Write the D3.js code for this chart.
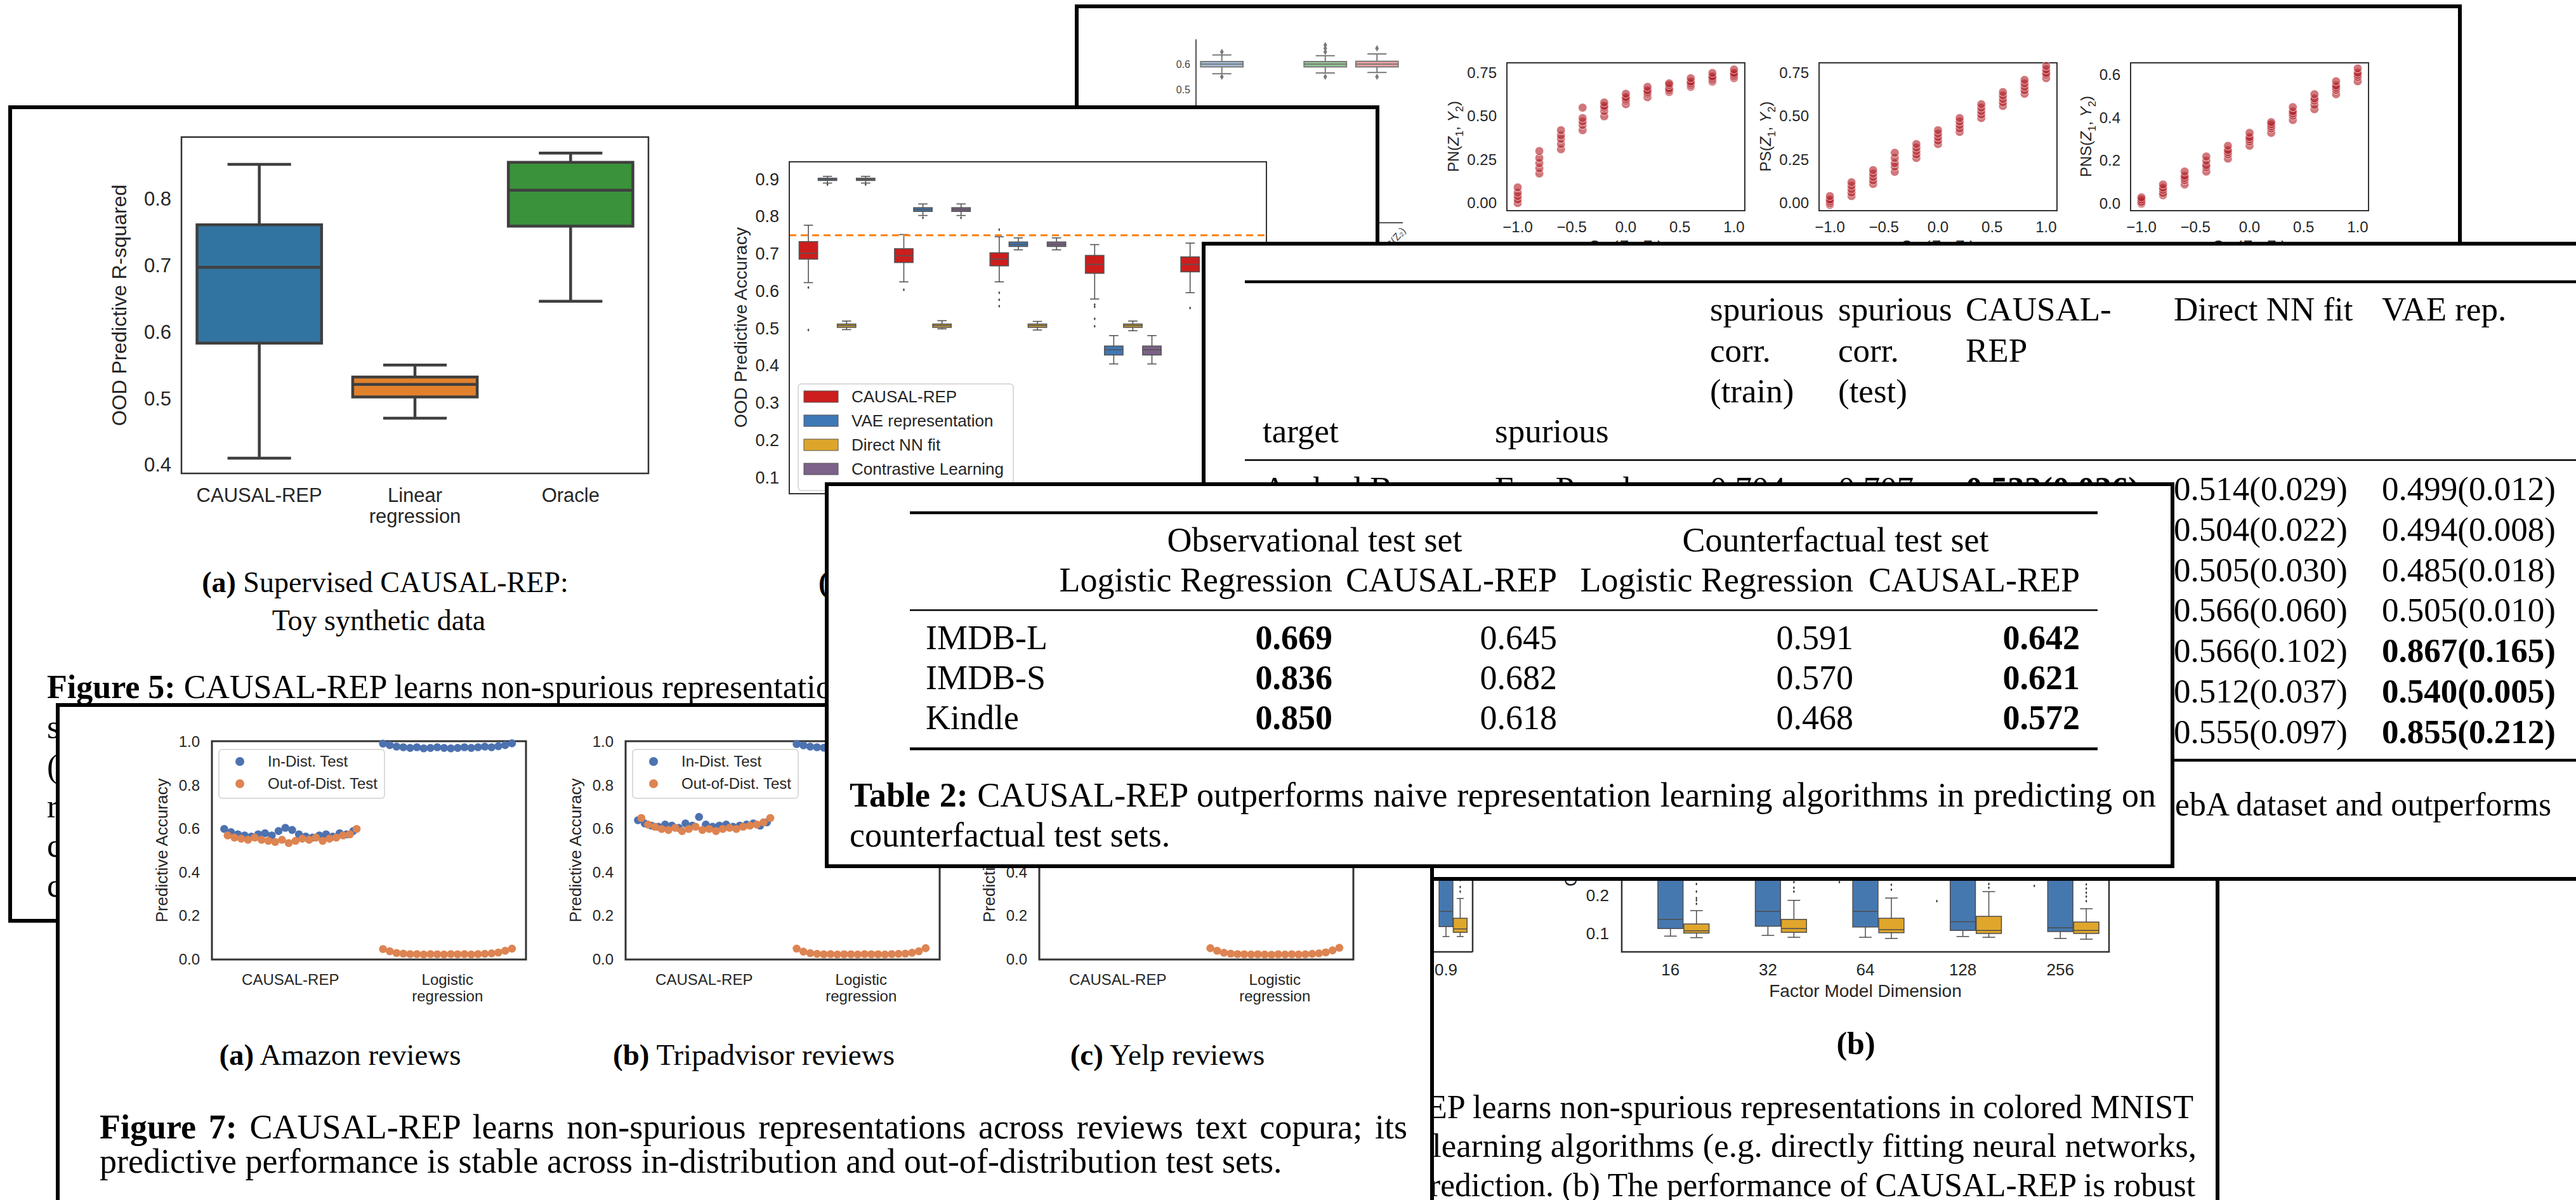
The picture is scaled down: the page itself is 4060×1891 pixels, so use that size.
<!DOCTYPE html>
<html>
<head>
<meta charset="utf-8">
<script src="https://cdn.jsdelivr.net/npm/d3@7"></script>
<style>
  html, body { margin: 0; padding: 0; background: #fff; }
  svg { display: block; }
</style>
</head>
<body>
<script>
// ================= data =================

// Fig 5(a): toy synthetic data, OOD predictive R-squared
const r2Categories = ["CAUSAL-REP", "Linear regression", "Oracle"];
const r2Stats = [
  { lo: 0.410, q1: 0.583, med: 0.697, q3: 0.761, hi: 0.852 },
  { lo: 0.470, q1: 0.502, med: 0.521, q3: 0.532, hi: 0.550 },
  { lo: 0.646, q1: 0.759, med: 0.813, q3: 0.855, hi: 0.869 }
];
const r2Ticks = [0.4, 0.5, 0.6, 0.7, 0.8];

// Fig 5(b): colored MNIST, OOD predictive accuracy
const mnistGroups = ["0.1", "0.3", "0.5", "0.7", "0.9"];
const mnistMethods = ["CAUSAL-REP", "VAE representation", "Direct NN fit", "Contrastive Learning"];
const mnistCausal = [
  { lo: 0.623, q1: 0.686, med: 0.702, q3: 0.733, hi: 0.777, out: [0.610, 0.496] },
  { lo: 0.625, q1: 0.677, med: 0.695, q3: 0.714, hi: 0.752, out: [0.604] },
  { lo: 0.625, q1: 0.668, med: 0.686, q3: 0.703, hi: 0.746, out: [0.765, 0.596, 0.577, 0.560] },
  { lo: 0.579, q1: 0.648, med: 0.672, q3: 0.696, hi: 0.725, out: [0.564, 0.558, 0.526, 0.506] },
  { lo: 0.596, q1: 0.652, med: 0.672, q3: 0.692, hi: 0.729, out: [0.555] }
];
const mnistVae = [
  { lo: 0.890, q1: 0.897, med: 0.900, q3: 0.903, hi: 0.908, out: [0.886] },
  { lo: 0.803, q1: 0.814, med: 0.819, q3: 0.824, hi: 0.834, out: [0.797] },
  { lo: 0.711, q1: 0.720, med: 0.726, q3: 0.732, hi: 0.743, out: [] },
  { lo: 0.405, q1: 0.429, med: 0.443, q3: 0.453, hi: 0.481, out: [] },
  null
];
const mnistDirect = [
  { lo: 0.497, q1: 0.503, med: 0.508, q3: 0.512, hi: 0.520, out: [] },
  { lo: 0.499, q1: 0.503, med: 0.508, q3: 0.512, hi: 0.521, out: [] },
  { lo: 0.496, q1: 0.503, med: 0.508, q3: 0.512, hi: 0.519, out: [] },
  { lo: 0.494, q1: 0.503, med: 0.508, q3: 0.512, hi: 0.520, out: [] },
  null
];
const mnistContrastive = [
  { lo: 0.890, q1: 0.897, med: 0.900, q3: 0.903, hi: 0.908, out: [0.886] },
  { lo: 0.803, q1: 0.814, med: 0.819, q3: 0.824, hi: 0.834, out: [0.797] },
  { lo: 0.711, q1: 0.720, med: 0.726, q3: 0.732, hi: 0.743, out: [] },
  { lo: 0.405, q1: 0.429, med: 0.443, q3: 0.453, hi: 0.481, out: [] },
  null
];
const mnistTicks = [0.1, 0.2, 0.3, 0.4, 0.5, 0.6, 0.7, 0.8, 0.9];
const mnistBaseline = 0.75;

// probabilities of causation vs correlation
const corrLevels = [-1.0, -0.8, -0.6, -0.4, -0.2, 0.0, 0.2, 0.4, 0.6, 0.8, 1.0];
const pnValues = [
  [0.00, 0.02, 0.04, 0.06, 0.09], [0.17, 0.20, 0.23, 0.26, 0.30], [0.31, 0.34, 0.37, 0.39, 0.42],
  [0.42, 0.45, 0.47, 0.49, 0.55], [0.50, 0.53, 0.55, 0.56, 0.58], [0.57, 0.59, 0.60, 0.61, 0.63],
  [0.61, 0.63, 0.64, 0.65, 0.67], [0.64, 0.65, 0.66, 0.68, 0.69], [0.67, 0.68, 0.69, 0.70, 0.72],
  [0.70, 0.71, 0.72, 0.73, 0.75], [0.72, 0.73, 0.74, 0.75, 0.77]
];
const psValues = [
  [-0.01, 0.00, 0.01, 0.02, 0.04], [0.04, 0.06, 0.08, 0.10, 0.12], [0.11, 0.13, 0.15, 0.17, 0.19],
  [0.18, 0.21, 0.23, 0.26, 0.29], [0.26, 0.28, 0.30, 0.32, 0.34], [0.34, 0.36, 0.38, 0.40, 0.42],
  [0.41, 0.43, 0.45, 0.47, 0.49], [0.49, 0.51, 0.53, 0.55, 0.57], [0.56, 0.58, 0.60, 0.62, 0.64],
  [0.63, 0.65, 0.67, 0.69, 0.71], [0.72, 0.74, 0.75, 0.77, 0.79]
];
const pnsValues = [
  [0.000, 0.005, 0.010, 0.020, 0.030], [0.040, 0.050, 0.065, 0.075, 0.090], [0.09, 0.11, 0.12, 0.13, 0.15],
  [0.15, 0.17, 0.18, 0.20, 0.22], [0.21, 0.23, 0.24, 0.25, 0.27], [0.27, 0.29, 0.30, 0.31, 0.33],
  [0.33, 0.35, 0.36, 0.37, 0.38], [0.39, 0.41, 0.42, 0.43, 0.45], [0.44, 0.46, 0.48, 0.49, 0.51],
  [0.51, 0.53, 0.54, 0.55, 0.57], [0.57, 0.59, 0.60, 0.61, 0.63]
];
const pnTicks = [0, 0.25, 0.5, 0.75];
const pnsTicks = [0, 0.2, 0.4, 0.6];
const corrTicks = [-1, -0.5, 0, 0.5, 1];

// small box chart of estimated probabilities
const probSlots = ["PN(Z₁)", "PS(Z₁)", "PNS(Z₁)", "PNS(Z₂)"];
const probStats = [
  { lo: 0.562, q1: 0.589, med: 0.600, q3: 0.610, hi: 0.636, out: [0.648, 0.550] },
  null,
  { lo: 0.565, q1: 0.589, med: 0.600, q3: 0.610, hi: 0.633, out: [0.675, 0.662, 0.648, 0.550] },
  { lo: 0.567, q1: 0.589, med: 0.600, q3: 0.611, hi: 0.640, out: [0.662, 0.550] }
];
const probTicks = [0.5, 0.6];

// CelebA table
const celebHeader = [["target"], ["spurious"], ["spurious", "corr.", "(train)"], ["spurious", "corr.", "(test)"],
                     ["CAUSAL-", "REP"], ["Direct NN fit"], ["VAE rep."]];
const celebFirstRow = ["Arched Brows", "Eye Pouch", "0.704", "0.707", "0.532(0.026)"];
const celebDirect = ["0.514(0.029)", "0.504(0.022)", "0.505(0.030)", "0.566(0.060)", "0.566(0.102)", "0.512(0.037)", "0.555(0.097)"];
const celebVae = ["0.499(0.012)", "0.494(0.008)", "0.485(0.018)", "0.505(0.010)", "0.867(0.165)", "0.540(0.005)", "0.855(0.212)"];
const celebVaeBold = [false, false, false, false, true, true, true];

// Table 2
const t2Datasets = ["IMDB-L", "IMDB-S", "Kindle"];
const t2ObsLogistic = ["0.669", "0.836", "0.850"];
const t2ObsCausal = ["0.645", "0.682", "0.618"];
const t2CfLogistic = ["0.591", "0.570", "0.468"];
const t2CfCausal = ["0.642", "0.621", "0.572"];

// Fig 7: review corpora
const reviewSets = ["Amazon reviews", "Tripadvisor reviews", "Yelp reviews"];
const reviewTags = ["(a)", "(b)", "(c)"];
const reviewMethods = ["CAUSAL-REP", "Logistic regression"];
const reviewTicks = [0.0, 0.2, 0.4, 0.6, 0.8, 1.0];
const causalInDist = [
  [0.600, 0.585, 0.575, 0.570, 0.565, 0.575, 0.580, 0.570, 0.590, 0.605, 0.595, 0.575, 0.565, 0.560, 0.570, 0.575, 0.565, 0.580, 0.575, 0.590],
  [0.640, 0.625, 0.615, 0.610, 0.620, 0.615, 0.605, 0.625, 0.615, 0.655, 0.620, 0.610, 0.615, 0.620, 0.610, 0.615, 0.620, 0.625, 0.615, 0.630],
  []
];
const causalOutDist = [
  [0.570, 0.560, 0.555, 0.550, 0.560, 0.550, 0.545, 0.540, 0.550, 0.535, 0.545, 0.555, 0.550, 0.560, 0.545, 0.555, 0.560, 0.570, 0.575, 0.600],
  [0.650, 0.620, 0.610, 0.600, 0.595, 0.605, 0.590, 0.600, 0.610, 0.595, 0.600, 0.590, 0.600, 0.605, 0.600, 0.610, 0.615, 0.620, 0.630, 0.650],
  []
];
const logisticInDist = [
  [0.992, 0.985, 0.978, 0.975, 0.972, 0.975, 0.970, 0.972, 0.975, 0.972, 0.970, 0.972, 0.975, 0.972, 0.975, 0.978, 0.975, 0.980, 0.985, 0.993],
  [0.990, 0.984, 0.978, 0.975, 0.973, 0.975, 0.971, 0.973, 0.975, 0.972, 0.971, 0.973, 0.975, 0.973, 0.975, 0.977, 0.976, 0.980, 0.984, 0.992],
  []
];
const logisticOutDist = [
  [0.048, 0.038, 0.030, 0.027, 0.025, 0.025, 0.023, 0.025, 0.024, 0.023, 0.025, 0.024, 0.025, 0.023, 0.025, 0.026, 0.028, 0.032, 0.040, 0.050],
  [0.050, 0.036, 0.029, 0.026, 0.024, 0.025, 0.023, 0.024, 0.024, 0.023, 0.025, 0.024, 0.024, 0.023, 0.025, 0.026, 0.027, 0.031, 0.038, 0.052],
  [0.052, 0.040, 0.031, 0.027, 0.025, 0.024, 0.023, 0.024, 0.023, 0.022, 0.024, 0.023, 0.024, 0.023, 0.024, 0.026, 0.028, 0.033, 0.042, 0.054]
];

// factor model dimension study
const dimGroups = ["16", "32", "64", "128", "256"];
const dimMethods = ["CAUSAL-REP", "VAE representation", "Direct NN fit"];
const dimCausal = [
  { lo: 0.26, q1: 0.45, med: 0.55, q3: 0.62, hi: 0.70, out: [] },
  { lo: 0.26, q1: 0.45, med: 0.55, q3: 0.62, hi: 0.70, out: [] },
  { lo: 0.26, q1: 0.45, med: 0.55, q3: 0.62, hi: 0.70, out: [0.235] },
  { lo: 0.26, q1: 0.45, med: 0.55, q3: 0.62, hi: 0.70, out: [0.185] },
  { lo: 0.26, q1: 0.45, med: 0.55, q3: 0.62, hi: 0.70, out: [0.225] }
];
const dimVae = [
  { lo: 0.093, q1: 0.113, med: 0.137, q3: 0.30, hi: 0.45, out: [] },
  { lo: 0.095, q1: 0.119, med: 0.158, q3: 0.30, hi: 0.45, out: [] },
  { lo: 0.090, q1: 0.117, med: 0.158, q3: 0.30, hi: 0.45, out: [] },
  { lo: 0.092, q1: 0.108, med: 0.131, q3: 0.30, hi: 0.45, out: [] },
  { lo: 0.087, q1: 0.105, med: 0.115, q3: 0.30, hi: 0.45, out: [] }
];
const dimDirect = [
  { lo: 0.089, q1: 0.101, med: 0.107, q3: 0.125, hi: 0.160, out: [0.178, 0.187, 0.193, 0.210, 0.230] },
  { lo: 0.090, q1: 0.103, med: 0.113, q3: 0.137, hi: 0.187, out: [0.210, 0.220, 0.235] },
  { lo: 0.087, q1: 0.102, med: 0.110, q3: 0.140, hi: 0.193, out: [0.215, 0.228] },
  { lo: 0.090, q1: 0.100, med: 0.108, q3: 0.145, hi: 0.210, out: [0.220, 0.230] },
  { lo: 0.085, q1: 0.100, med: 0.108, q3: 0.130, hi: 0.165, out: [0.185, 0.197, 0.207, 0.218, 0.229] }
];
const dimTicks = [0.1, 0.2];
const corrGroupsTail = ["0.9"];
const corrTailVae = [{ lo: 0.092, q1: 0.118, med: 0.158, q3: 0.30, hi: 0.45, out: [] }];
const corrTailDirect = [{ lo: 0.092, q1: 0.103, med: 0.112, q3: 0.140, hi: 0.192, out: [0.210, 0.222, 0.240] }];

// ================= drawing =================
const SANS = "'Liberation Sans', Arial, Helvetica, sans-serif";
const SERIF = "'Liberation Serif', 'Times New Roman', serif";
const INK = "#262626";

const svg = d3.select("body").append("svg").attr("width", 4060).attr("height", 1891);
svg.append("rect").attr("width", 4060).attr("height", 1891).attr("fill", "#fff");
const defs = svg.append("defs");

// a framed white sheet; content is clipped to the frame
function sheet(id, x0, y0, x1, y1) {
  const outer = svg.append("g");
  defs.append("clipPath").attr("id", id).append("rect")
    .attr("x", x0).attr("y", y0).attr("width", x1 - x0).attr("height", y1 - y0);
  outer.append("rect").attr("x", x0).attr("y", y0).attr("width", x1 - x0).attr("height", y1 - y0).attr("fill", "#fff");
  const g = outer.append("g").attr("clip-path", `url(#${id})`);
  outer.append("rect").attr("x", x0).attr("y", y0).attr("width", x1 - x0).attr("height", y1 - y0)
    .attr("fill", "none").attr("stroke", "#000").attr("stroke-width", 6);
  return g;
}

// text with optional rich parts: [str, flags] flags: b bold, i italic, s subscript
function txt(g, x, y, s, o = {}) {
  const size = o.size || 24;
  const t = g.append("text").attr("x", x).attr("y", y)
    .attr("font-family", o.family || SANS).attr("font-size", size)
    .attr("fill", o.fill || INK).attr("text-anchor", o.anchor || "start");
  if (o.weight) t.attr("font-weight", o.weight);
  if (o.rotate) t.attr("transform", `rotate(${o.rotate},${x},${y})`);
  if (Array.isArray(s)) {
    let shift = 0;
    s.forEach(p => {
      const [str, f] = typeof p === "string" ? [p, ""] : p;
      const ts = t.append("tspan").text(str);
      if (f.includes("b")) ts.attr("font-weight", "bold");
      if (f.includes("i")) ts.attr("font-style", "italic");
      const want = f.includes("s") ? 0.28 * size : 0;
      if (want !== shift) { ts.attr("dy", want - shift); shift = want; }
      if (f.includes("s")) ts.attr("font-size", size * 0.7);
    });
  } else t.text(s);
  if (o.justify) justify(t, o.justify);
  return t;
}

// stretch a caption line to a given width through its word spacing
function justify(t, len) {
  const natural = t.node().getComputedTextLength();
  const gaps = (t.text().match(/ /g) || []).length;
  if (natural < len && gaps > 0) t.attr("word-spacing", (len - natural) / gaps);
  else if (natural > len) t.attr("textLength", len).attr("lengthAdjust", "spacingAndGlyphs");
}

// font size giving a line its wanted width
function fitSize(t, len) {
  const natural = t.node().getComputedTextLength();
  const size = +t.attr("font-size") * len / natural;
  t.attr("font-size", size);
  return size;
}

function line(g, x1, y1, x2, y2, stroke, w, dash) {
  const l = g.append("line").attr("x1", x1).attr("y1", y1).attr("x2", x2).attr("y2", y2)
    .attr("stroke", stroke).attr("stroke-width", w);
  if (dash) l.attr("stroke-dasharray", dash);
  return l;
}

function boxplot(g, cx, w, s, y, st) {
  if (!s) return;
  const cap = w * (st.cap || 0.5);
  line(g, cx, y(s.hi), cx, y(s.q3), st.line, st.lw);
  line(g, cx, y(s.q1), cx, y(s.lo), st.line, st.lw);
  line(g, cx - cap / 2, y(s.hi), cx + cap / 2, y(s.hi), st.line, st.lw);
  line(g, cx - cap / 2, y(s.lo), cx + cap / 2, y(s.lo), st.line, st.lw);
  g.append("rect").attr("x", cx - w / 2).attr("y", y(s.q3)).attr("width", w).attr("height", y(s.q1) - y(s.q3))
    .attr("fill", st.fill).attr("stroke", st.line).attr("stroke-width", st.lw);
  line(g, cx - w / 2, y(s.med), cx + w / 2, y(s.med), st.line, st.lw);
  (s.out || []).forEach(v => {
    g.append("path").attr("d", d3.symbol(d3.symbolDiamond, st.outSize || 10)())
      .attr("transform", `translate(${cx},${y(v)})`).attr("fill", st.outFill || st.line);
  });
}

// ---------------- sheet 1: probabilities of causation ----------------
{
  const g = sheet("clipProb", 1697, 10, 3877, 1300);

  // estimated probabilities (box chart, left/bottom spines only)
  const x = d3.scaleBand().domain(probSlots).range([1885, 2211]);
  const y = d3.scaleLinear().domain([0.5, 0.6]).range([141, 101]);
  const cols = ["#a3c0df", "#bdbdbd", "#92cb92", "#f4a4a2"];
  line(g, 1885, 62, 1885, 351, "#555", 2);
  line(g, 1885, 351, 2211, 351, "#555", 2);
  probTicks.forEach(t => txt(g, 1876, y(t) + 6, d3.format(".1f")(t), { size: 16, anchor: "end", fill: "#444" }));
  probSlots.forEach((d, i) => {
    const cx = x(d) + x.bandwidth() / 2;
    boxplot(g, cx, x.bandwidth() * 0.82, probStats[i], y,
      { fill: cols[i], line: "#7a7a7a", lw: 2, cap: 0.45, outSize: 30, outFill: "#7a7a7a" });
    txt(g, cx + 46, 364, d, { size: 16, anchor: "end", rotate: -50, fill: "#444" });
  });

  // PN / PS / PNS scatter charts
  const charts = [
    { x0: 2375, vals: pnValues, ticks: pnTicks, fmt: ".2f", dom: [-0.044, 0.8085], lab: "PN", lx: 2299 },
    { x0: 2867, vals: psValues, ticks: pnTicks, fmt: ".2f", dom: [-0.044, 0.8085], lab: "PS", lx: 2791 },
    { x0: 3358, vals: pnsValues, ticks: pnsTicks, fmt: ".1f", dom: [-0.032, 0.656], lab: "PNS", lx: 3296 }
  ];
  const minus = s => s.replace("-", "\u2212");
  charts.forEach(c => {
    const sx = d3.scaleLinear().domain([-1.1, 1.1]).range([c.x0, c.x0 + 375]);
    const sy = d3.scaleLinear().domain(c.dom).range([332, 99]);
    g.append("rect").attr("x", c.x0).attr("y", 99).attr("width", 375).attr("height", 233)
      .attr("fill", "none").attr("stroke", "#333").attr("stroke-width", 2);
    c.ticks.forEach(t => txt(g, c.x0 - 16, sy(t) + 8, d3.format(c.fmt)(t), { size: 24, anchor: "end" }));
    corrTicks.forEach(t => txt(g, sx(t), 366, minus(d3.format(".1f")(t)), { size: 24, anchor: "middle" }));
    corrLevels.forEach((cv, i) => {
      c.vals[i].forEach(v => {
        g.append("circle").attr("cx", sx(cv)).attr("cy", sy(v)).attr("r", 6.8)
          .attr("fill", "#b3232b").attr("fill-opacity", 0.62).attr("stroke", "#fff").attr("stroke-width", 1).attr("stroke-opacity", 0.7);
      });
    });
    txt(g, c.lx, 215, [c.lab + "(", ["Z", "i"], ["1", "s"], ", ", ["Y", "i"], ["2", "s"], ")"], { size: 24, anchor: "middle", rotate: -90 });
    txt(g, c.x0 + 187, 396, ["Cor(", ["Z", "i"], ["1", "s"], ", ", ["Z", "i"], ["2", "s"], ")"], { size: 24, anchor: "middle" });
  });
}

// ---------------- sheet 2: Figure 5 ----------------
{
  const g = sheet("clipFig5", 16, 169, 2171, 1451);

  // (a) R-squared
  const x = d3.scaleBand().domain(r2Categories).range([286, 1022]);
  const y = d3.scaleLinear().domain([0.387, 0.893]).range([746, 216]);
  const cols = ["#3274a1", "#e1812c", "#3a923a"];
  r2Ticks.forEach(t => txt(g, 270, y(t) + 11, d3.format(".1f")(t), { size: 31, anchor: "end" }));
  r2Categories.forEach((d, i) => {
    const cx = x(d) + x.bandwidth() / 2;
    boxplot(g, cx, x.bandwidth() * 0.8, r2Stats[i], y, { fill: cols[i], line: "#3f3f3f", lw: 4.5, cap: 0.51 });
    d.split(" ").forEach((w, k) => txt(g, cx, 791 + k * 33, w, { size: 31, anchor: "middle" }));
  });
  g.append("rect").attr("x", 286).attr("y", 216).attr("width", 736).attr("height", 530)
    .attr("fill", "none").attr("stroke", "#333").attr("stroke-width", 2.5);
  txt(g, 199, 481, "OOD Predictive R-squared", { size: 32, anchor: "middle", rotate: -90 });
  txt(g, 607, 933, [["(a)", "b"], " Supervised CAUSAL-REP:"], { family: SERIF, size: 46, anchor: "middle", fill: "#000" });
  txt(g, 597, 993, "Toy synthetic data", { family: SERIF, size: 46, anchor: "middle", fill: "#000" });

  // (b) colored MNIST accuracy
  const gx = d3.scaleBand().domain(mnistGroups).range([1244, 1996]);
  const hx = d3.scaleBand().domain(mnistMethods).range([gx.bandwidth() * 0.1, gx.bandwidth() * 0.9]);
  const my = d3.scaleLinear().domain([0.057, 0.947]).range([778, 255]);
  const mcols = ["#cd1d1d", "#3e78b5", "#dea52b", "#7c6188"];
  const series = [mnistCausal, mnistVae, mnistDirect, mnistContrastive];
  mnistTicks.forEach(t => txt(g, 1228, my(t) + 9, d3.format(".1f")(t), { size: 27, anchor: "end" }));
  mnistGroups.forEach((grp, gi) => {
    mnistMethods.forEach((m, mi) => {
      const cx = gx(grp) + hx(m) + hx.bandwidth() / 2;
      boxplot(g, cx, hx.bandwidth() * 0.97, series[mi][gi], my,
        { fill: mcols[mi], line: "#555", lw: 1.6, cap: 0.5, outSize: 8, outFill: "#444" });
    });
    txt(g, gx(grp) + gx.bandwidth() / 2, 810, grp, { size: 27, anchor: "middle" });
  });
  line(g, 1244, my(mnistBaseline), 1996, my(mnistBaseline), "#ff7f0e", 3, "11,7");
  g.append("rect").attr("x", 1244).attr("y", 255).attr("width", 752).attr("height", 523)
    .attr("fill", "none").attr("stroke", "#333").attr("stroke-width", 2);
  txt(g, 1177, 516, "OOD Predictive Accuracy", { size: 28, anchor: "middle", rotate: -90 });
  // legend
  g.append("rect").attr("x", 1258).attr("y", 605).attr("width", 339).attr("height", 168).attr("rx", 5)
    .attr("fill", "#fff").attr("fill-opacity", 0.85).attr("stroke", "#d0d0d0").attr("stroke-width", 1.5);
  mnistMethods.forEach((m, i) => {
    const cy = 625 + i * 38;
    g.append("rect").attr("x", 1267).attr("y", cy - 9).attr("width", 54).attr("height", 18)
      .attr("fill", mcols[i]).attr("stroke", "#555").attr("stroke-width", 1);
    txt(g, 1342, cy + 9, m, { size: 26 });
  });
  txt(g, 1290, 933, [["(b)", "b"], " MNIST"], { family: SERIF, size: 46, fill: "#000" });

  // caption (the lines run on under the sheets laid over this one)
  const capLines = [
    [["Figure 5:", "b"], " CAUSAL-REP learns non-spurious representations"],
    "settings",
    "(a)",
    "results",
    "colored",
    "case"
  ];
  capLines.forEach((l, i) => txt(g, 74, 1100 + i * 62.6, l, { family: SERIF, size: 52, fill: "#000" }));
}

// ---------------- sheet 3: factor model dimension ----------------
{
  const g = sheet("clipDim", 1500, 1000, 3495, 1960);
  const y = d3.scaleLinear().domain([0.1, 0.2]).range([1471, 1411]);
  const cols = ["#cd1d1d", "#4678b0", "#e0a62c"];
  const st = i => ({ fill: cols[i], line: "#4d4d4d", lw: 1.5, cap: 0.5, outSize: 7, outFill: "#333" });

  // tail of the spurious-correlation chart
  const tx = d3.scaleBand().domain(corrGroupsTail).range([2237, 2321]);
  const thx = d3.scaleBand().domain(dimMethods).range([tx.bandwidth() * 0.1, tx.bandwidth() * 0.9]);
  corrGroupsTail.forEach((grp, gi) => {
    [null, corrTailVae, corrTailDirect].forEach((ser, mi) => {
      if (!ser) return;
      boxplot(g, tx(grp) + thx(dimMethods[mi]) + thx.bandwidth() / 2, thx.bandwidth() * 0.97, ser[gi], y, st(mi));
    });
    txt(g, tx(grp) + tx.bandwidth() / 2, 1537, grp, { size: 26, anchor: "middle" });
  });
  line(g, 2321, 978, 2321, 1500, "#333", 2.5);
  line(g, 1900, 1500, 2321, 1500, "#333", 2.5);

  // main chart
  const gx = d3.scaleBand().domain(dimGroups).range([2556, 3324]);
  const hx = d3.scaleBand().domain(dimMethods).range([gx.bandwidth() * 0.1, gx.bandwidth() * 0.9]);
  const series = [dimCausal, dimVae, dimDirect];
  dimGroups.forEach((grp, gi) => {
    dimMethods.forEach((m, mi) => {
      boxplot(g, gx(grp) + hx(m) + hx.bandwidth() / 2, hx.bandwidth() * 0.97, series[mi][gi], y, st(mi));
    });
    txt(g, gx(grp) + gx.bandwidth() / 2, 1537, grp, { size: 26, anchor: "middle" });
  });
  g.append("rect").attr("x", 2556).attr("y", 978).attr("width", 768).attr("height", 522)
    .attr("fill", "none").attr("stroke", "#333").attr("stroke-width", 2.5);
  dimTicks.forEach(t => txt(g, 2536, y(t) + 9, d3.format(".1f")(t), { size: 26, anchor: "end" }));
  txt(g, 2485, 1239, "OOD Predictive Accuracy", { size: 28, anchor: "middle", rotate: -90 });
  txt(g, 2940, 1571, "Factor Model Dimension", { size: 28, anchor: "middle" });
  txt(g, 2925, 1661, "(b)", { family: SERIF, size: 50, weight: "bold", anchor: "middle", fill: "#000" });

  // caption lines, justified to the right margin
  const tail = [
    ["EP learns non-spurious representations in colored MNIST", 2249, 1208, 1762],
    ["learning algorithms (e.g. directly fitting neural networks,", 2257, 1205, 1823],
    ["rediction. (b) The performance of CAUSAL-REP is robust", 2253, 1207, 1885]
  ];
  tail.forEach(([vis, x0, len, by]) => txt(g, x0, by, vis, { family: SERIF, size: 53, fill: "#000", justify: len }));
}

// ---------------- sheet 4: CelebA table ----------------
{
  const g = sheet("clipCeleb", 1897, 384, 4120, 1385);
  const colX = [1990, 2356, 2695, 2897, 3098, 3426, 3754];
  const headBase = [505, 570, 634, 697];
  line(g, 1962, 444, 4070, 444, "#000", 4.5);
  celebHeader.forEach((lines, c) => {
    const start = lines.length === 1 && c < 2 ? 3 : 0;
    lines.forEach((l, k) => txt(g, colX[c], headBase[start + k], l, { family: SERIF, size: 53, fill: "#000" }));
  });
  line(g, 1962, 725, 4070, 725, "#000", 2.5);
  const rowBase = i => 788 + i * 63.8;
  celebFirstRow.forEach((v, c) => txt(g, colX[c], rowBase(0), v,
    { family: SERIF, size: 53, fill: "#000", weight: c === 4 ? "bold" : null }));
  celebDirect.forEach((v, i) => txt(g, colX[5], rowBase(i), v, { family: SERIF, size: 53, fill: "#000" }));
  celebVae.forEach((v, i) => txt(g, colX[6], rowBase(i), v,
    { family: SERIF, size: 53, fill: "#000", weight: celebVaeBold[i] ? "bold" : null }));
  line(g, 1962, 1198, 4070, 1198, "#000", 4.5);
  txt(g, 3428, 1285, "ebA dataset and outperforms", { family: SERIF, size: 52, fill: "#000", justify: 593 });
}

// ---------------- sheet 5: Figure 7 ----------------
{
  const g = sheet("clipFig7", 91, 1111, 2257, 1960);
  const y = d3.scaleLinear().domain([0, 1]).range([1512, 1169]);
  const blue = "#4c72b0", orange = "#dd8452";
  const step = 10.7;
  const swarm = (vals, cx, off, color) => {
    const n = vals.length;
    vals.forEach((v, i) => {
      g.append("circle").attr("cx", cx + (i - (n - 1) / 2) * step + off).attr("cy", y(v)).attr("r", 6.3)
        .attr("fill", color);
    });
  };
  reviewSets.forEach((name, k) => {
    const x0 = 334 + 652 * k;
    const x = d3.scaleBand().domain(reviewMethods).range([x0, x0 + 495]);
    const c0 = x(reviewMethods[0]) + x.bandwidth() / 2;
    const c1 = x(reviewMethods[1]) + x.bandwidth() / 2;
    g.append("rect").attr("x", x0).attr("y", 1168).attr("width", 495).attr("height", 344)
      .attr("fill", "none").attr("stroke", "#333").attr("stroke-width", 3);
    reviewTicks.forEach(t => txt(g, x0 - 19, y(t) + 8, d3.format(".1f")(t), { size: 24, anchor: "end" }));
    txt(g, c0, 1552, "CAUSAL-REP", { size: 24, anchor: "middle" });
    txt(g, c1, 1552, "Logistic", { size: 24, anchor: "middle" });
    txt(g, c1, 1578, "regression", { size: 24, anchor: "middle" });
    txt(g, x0 - 70, 1340, "Predictive Accuracy", { size: 26, anchor: "middle", rotate: -90 });

    swarm(causalInDist[k], c0, -step / 4, blue);
    swarm(causalOutDist[k], c0, step / 4, orange);
    swarm(logisticInDist[k], c1, 0, blue);
    swarm(logisticOutDist[k], c1, 0, orange);

    // legend (the third one lies under Table 2)
    if (k < 2) {
      g.append("rect").attr("x", x0 + 11).attr("y", 1181).attr("width", 261).attr("height", 77).attr("rx", 5)
        .attr("fill", "#fff").attr("fill-opacity", 0.85).attr("stroke", "#d0d0d0").attr("stroke-width", 1.5);
      [["In-Dist. Test", blue], ["Out-of-Dist. Test", orange]].forEach(([lab, col], i) => {
        g.append("circle").attr("cx", x0 + 44).attr("cy", 1200 + i * 35).attr("r", 7).attr("fill", col);
        txt(g, x0 + 88, 1200 + i * 35 + 8, lab, { size: 24 });
      });
    }

    txt(g, x0 + 202, 1678, [[reviewTags[k], "b"], " " + name], { family: SERIF, size: 47, anchor: "middle", fill: "#000" });
  });
  // caption: the last line sets the type size, the first line is justified to the measure
  const last = txt(g, 157, 1848, "predictive performance is stable across in-distribution and out-of-distribution test sets.",
    { family: SERIF, size: 47, fill: "#000" });
  const capSize = fitSize(last, 1864);
  txt(g, 157, 1794, [["Figure 7:", "b"], " CAUSAL-REP learns non-spurious representations across reviews text copura; its"],
    { family: SERIF, size: capSize, fill: "#000", justify: 2061 });
}

// ---------------- sheet 6: Table 2 ----------------
{
  const g = sheet("clipTab2", 1303, 763, 3424, 1365);
  const right = [2100, 2454, 2921, 3278];
  const T = { family: SERIF, size: 54, fill: "#000" };
  line(g, 1434, 808, 3306, 808, "#000", 4.5);
  txt(g, 2072, 869, "Observational test set", { ...T, anchor: "middle" });
  txt(g, 2893, 869, "Counterfactual test set", { ...T, anchor: "middle" });
  ["Logistic Regression", "CAUSAL-REP", "Logistic Regression", "CAUSAL-REP"].forEach((h, i) =>
    txt(g, right[i], 932, h, { ...T, anchor: "end" }));
  line(g, 1434, 961.5, 3306, 961.5, "#000", 2.5);
  const cols = [t2ObsLogistic, t2ObsCausal, t2CfLogistic, t2CfCausal];
  const bold = [true, false, false, true];
  t2Datasets.forEach((d, r) => {
    const by = 1023 + r * 63;
    txt(g, 1459, by, d, T);
    cols.forEach((c, i) => txt(g, right[i], by, c[r], { ...T, anchor: "end", weight: bold[i] ? "bold" : null }));
  });
  line(g, 1434, 1180, 3306, 1180, "#000", 4.5);
  txt(g, 1339, 1271, [["Table 2:", "b"], " CAUSAL-REP outperforms naive representation learning algorithms in predicting on"],
    { ...T, justify: 2059 });
  txt(g, 1339, 1334, "counterfactual test sets.", T);
}
</script>
</body>
</html>
